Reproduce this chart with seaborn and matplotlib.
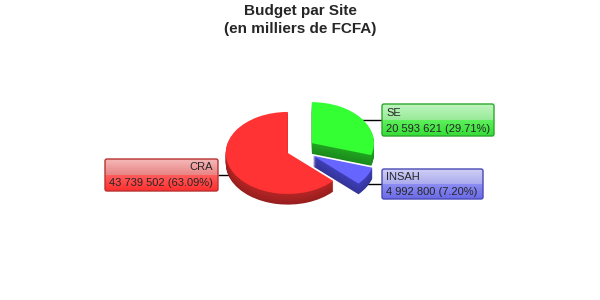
import numpy as np
import matplotlib
matplotlib.use("Agg")
import matplotlib.pyplot as plt
import seaborn as sns
from matplotlib.patches import FancyBboxPatch
from matplotlib import colors as mcolors

# ---- data ----
sites = ["SE", "INSAH", "CRA"]
budgets = [20593621, 4992800, 43739502]
explode = [0.28, 0.28, 0.18]
top_colors = ["#33ff33", "#6666ff", "#ff3333"]
side_colors = ["#1e9a1e", "#3a3aaa", "#a82222"]
title = "Budget par Site\n(en milliers de FCFA)"

sns.set_theme(style="white")
plt.rcParams['font.family'] = ['Liberation Sans', 'DejaVu Sans']

fig = plt.figure(figsize=(6, 3), dpi=100)
fig.patch.set_facecolor("white")

# overlay in pixel coordinates for labels
ov = fig.add_axes([0, 0, 1, 1])
ov.set_xlim(0, 600)
ov.set_ylim(300, 0)
ov.axis("off")

# pie axes (elliptical)
cx, cy, rx, ry = 298, 150, 62, 41
ax = fig.add_axes([(cx - rx) / 600, 1 - (cy + ry) / 300, 2 * rx / 600, 2 * ry / 300])

depth = 0.26
nlay = 14
for k in range(nlay, 0, -1):
    off = depth * k / nlay
    t = k / nlay
    cols = [mcolors.to_hex(np.clip(np.array(mcolors.to_rgb(c)) * (1.0 - 0.18 * t + 0.08), 0, 1))
            for c in side_colors]
    w, _ = ax.pie(budgets, explode=explode, colors=cols, startangle=90,
                  counterclock=False, center=(0, -off), radius=1,
                  wedgeprops=dict(linewidth=0))
    for p in w:
        p.set_clip_on(False)
w, _ = ax.pie(budgets, explode=explode, colors=top_colors, startangle=90,
              counterclock=False, center=(0, 0), radius=1,
              wedgeprops=dict(linewidth=0))
for p in w:
    p.set_clip_on(False)
ax.set_aspect("auto")
ax.set_xlim(-1, 1)
ax.set_ylim(-1, 1)
ax.axis("off")

# ---- labels ----
total = sum(budgets)
def fmt(v):
    return f"{v:,}".replace(",", " ") + f" ({v / total * 100:.2f}%)"

layout = {
    "SE": dict(box=(382, 104, 494, 136), align="left", line=(350, 382, 120),
               top=("#bff5bf", "#98ea98"), bot=("#5cf05c", "#36dc36"), edge="#2ca82c"),
    "INSAH": dict(box=(382, 169, 483, 199), align="left", line=(350, 382, 184),
                  top=("#cfcff6", "#ababee"), bot=("#8c8cf4", "#6a6ae6"), edge="#4a4ab4"),
    "CRA": dict(box=(105, 159, 218, 191), align="right", line=(218, 240, 175),
                top=("#f6b8b8", "#e88484"), bot=("#ff5c5c", "#ff2e2e"), edge="#b83232"),
}

def grad(ax_, x0, x1, y0, y1, c0, c1):
    a = np.array(mcolors.to_rgb(c0))
    b = np.array(mcolors.to_rgb(c1))
    n = 32
    img = np.array([a + (b - a) * i / (n - 1) for i in range(n)])[:, None, :]
    ax_.imshow(img, extent=(x0, x1, y1, y0), aspect="auto", zorder=2, interpolation="bilinear")

for name, val in zip(sites, budgets):
    L = layout[name]
    x0, y0, x1, y1 = L["box"]
    lx0, lx1, ly = L["line"]
    ov.plot([lx0, lx1], [ly, ly], color="black", lw=1, zorder=1, solid_capstyle="butt")
    ym = (y0 + y1) / 2
    grad(ov, x0, x1, y0, ym, *L["top"])
    grad(ov, x0, x1, ym, y1, *L["bot"])
    ov.add_patch(FancyBboxPatch((x0, y0), x1 - x0, y1 - y0,
                                boxstyle="round,pad=0,rounding_size=2",
                                fc="none", ec=L["edge"], lw=1, zorder=3))
    if L["align"] == "left":
        ov.text(x0 + 4, (y0 + ym) / 2 + 0.5, name, ha="left", va="center", fontsize=8, zorder=4)
    else:
        ov.text(x1 - 5, (y0 + ym) / 2 + 0.5, name, ha="right", va="center", fontsize=8, zorder=4)
    ov.text(x0 + 4, (ym + y1) / 2 + 0.5, fmt(val),
            ha="left", va="center", fontsize=8, zorder=4)
ov.set_xlim(0, 600)
ov.set_ylim(300, 0)

fig.text(0.5, 1 - 20 / 300, title, ha="center", va="center", fontsize=11,
         fontweight="bold", linespacing=1.45)

fig.savefig("out.png", dpi=100, facecolor="white")
